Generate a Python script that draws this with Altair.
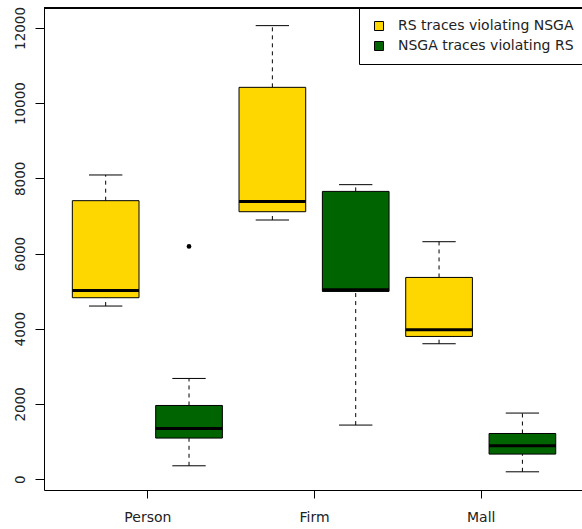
import altair as alt
import pandas as pd

categories = ["Person", "Firm", "Mall"]
series = ["RS traces violating NSGA", "NSGA traces violating RS"]
colors = ["#FFD700", "#006400"]

rs_low = [4603, 6891, 3600]
rs_q1 = [4824, 7112, 3794]
rs_med = [5018, 7386, 3973]
rs_q3 = [7405, 10420, 5364]
rs_high = [8089, 12061, 6314]

nsga_low = [354, 1437, 194]
nsga_q1 = [1091, 4992, 665]
nsga_med = [1346, 5037, 886]
nsga_q3 = [1958, 7652, 1213]
nsga_high = [2677, 7831, 1756]

outlier_cat = ["Person"]
outlier_series = ["NSGA traces violating RS"]
outlier_val = [6189]

stats = {
    series[0]: (rs_low, rs_q1, rs_med, rs_q3, rs_high),
    series[1]: (nsga_low, nsga_q1, nsga_med, nsga_q3, nsga_high),
}

rows = []
for i, cat in enumerate(categories):
    for j, s in enumerate(series):
        lo, q1, md, q3, hi = stats[s]
        rows.append(dict(cat=cat, series=s, pos=2 * i + j + 1,
                         low=lo[i], q1=q1[i], med=md[i], q3=q3[i], high=hi[i]))
df = pd.DataFrame(rows)

out_rows = []
for c, s, v in zip(outlier_cat, outlier_series, outlier_val):
    out_rows.append(dict(pos=2 * categories.index(c) + series.index(s) + 1, value=v))
odf = pd.DataFrame(out_rows)

FONT = "DejaVu Sans"
xs = alt.Scale(domain=[0.26, 6.715], nice=False, zero=False)
ys = alt.Scale(domain=[-290, 12530], nice=False, zero=False)

tick_vals = [2 * i + 1.5 for i in range(len(categories))]
label_expr = " : ".join(
    f"datum.value == {v} ? '{c}'" for v, c in zip(tick_vals[:-1], categories[:-1])
) + f" : '{categories[-1]}'"

xaxis = alt.Axis(values=tick_vals, labelExpr=label_expr, title=None, grid=False,
                 tickSize=8, labelPadding=12, labelFontSize=14, labelFont=FONT,
                 labelColor="#222", domainColor="black", tickColor="black",
                 labelFlush=False, labelOverlap=False)
yaxis = alt.Axis(values=list(range(0, 12001, 2000)), format="d", title=None, grid=False,
                 tickSize=9, labelPadding=11, labelFontSize=13.5, labelFont=FONT,
                 labelColor="#222", labelAngle=270, labelAlign="center",
                 labelBaseline="alphabetic", domainColor="black", tickColor="black",
                 labelFlush=False, labelOverlap=False)

base = alt.Chart(df).transform_calculate(
    bl="datum.pos - 0.4", br="datum.pos + 0.4",
    cl="datum.pos - 0.2", cr="datum.pos + 0.2")

whisk_up = base.mark_rule(color="black", strokeDash=[4, 4], strokeWidth=1).encode(
    x=alt.X("pos:Q", scale=xs, axis=xaxis),
    y=alt.Y("q3:Q", scale=ys, axis=yaxis), y2="high:Q")
whisk_lo = base.mark_rule(color="black", strokeDash=[4, 4], strokeWidth=1).encode(
    x=alt.X("pos:Q", scale=xs), y=alt.Y("low:Q", scale=ys), y2="q1:Q")
cap_hi = base.mark_rule(color="black", strokeWidth=1).encode(
    x=alt.X("cl:Q", scale=xs), x2="cr:Q", y=alt.Y("high:Q", scale=ys))
cap_lo = base.mark_rule(color="black", strokeWidth=1).encode(
    x=alt.X("cl:Q", scale=xs), x2="cr:Q", y=alt.Y("low:Q", scale=ys))
box = base.mark_rect(stroke="black", strokeWidth=1).encode(
    x=alt.X("bl:Q", scale=xs), x2="br:Q",
    y=alt.Y("q1:Q", scale=ys), y2="q3:Q",
    color=alt.Color("series:N", scale=alt.Scale(domain=series, range=colors),
                    legend=alt.Legend(title=None, orient="none", legendX=315, legendY=0,
                                      strokeColor="black", fillColor="white",
                                      padding=11, symbolType="square", symbolSize=81,
                                      symbolOffset=2,
                                      symbolStrokeColor="black", symbolStrokeWidth=1,
                                      labelFontSize=14, labelFont=FONT, labelColor="#222",
                                      rowPadding=6, labelOffset=12, cornerRadius=0,
                                      labelLimit=400)))
median = base.mark_rule(color="black", strokeWidth=3).encode(
    x=alt.X("bl:Q", scale=xs), x2="br:Q", y=alt.Y("med:Q", scale=ys))
outl = alt.Chart(odf).mark_point(filled=True, color="black", size=22, shape="circle",
                                 opacity=1).encode(
    x=alt.X("pos:Q", scale=xs), y=alt.Y("value:Q", scale=ys))

# top frame line of the plot box
frame_top = alt.Chart(df).mark_rule(color="black", strokeWidth=1).encode(
    x=alt.value(0), x2=alt.value(538), y=alt.value(0))

chart = alt.layer(whisk_up, whisk_lo, cap_hi, cap_lo, box, median, outl,
                  frame_top).properties(
    width=538, height=482,
    autosize=alt.AutoSizeParams(type="none"),
    padding={"left": 44, "top": 8, "right": 0, "bottom": 39},
    background="white",
).configure_view(stroke=None)

chart.save("out.html", embed_options={"renderer": "svg", "actions": False})
